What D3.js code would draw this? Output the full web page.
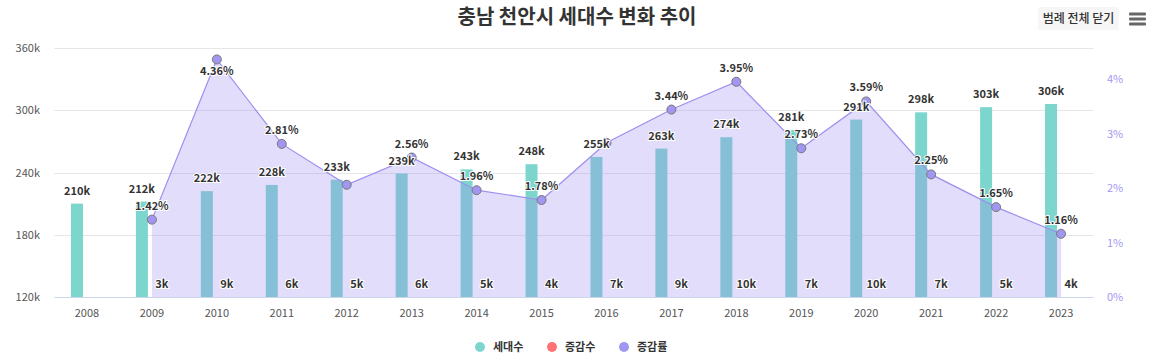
<!DOCTYPE html>
<html><head><meta charset="utf-8">
<script src="https://cdn.jsdelivr.net/npm/d3@7"></script>
<style>
html,body{margin:0;padding:0;background:#fff;}
svg{display:block;font-family:"Noto Sans CJK KR","Noto Sans",sans-serif;}
</style></head>
<body>
<svg id="chart" width="1152" height="360"></svg>
<script>
const years = ["2008","2009","2010","2011","2012","2013","2014","2015","2016","2017","2018","2019","2020","2021","2022","2023"];
const households = [210,212,222,228,233,239,243,248,255,263,274,281,291,298,303,306]; // thousands
const changes = [null,3,9,6,5,6,5,4,7,9,10,7,10,7,5,4]; // thousands
const rates = [null,1.42,4.36,2.81,2.06,2.56,1.96,1.78,2.83,3.44,3.95,2.73,3.59,2.25,1.65,1.16]; // percent
const hiddenRateLabels = ["2012","2016"];
const leftTicks = [120,180,240,300,360];
const rightTicks = [0,1,2,3,4];
const seriesNames = ["세대수","증감수","증감률"];
const seriesColors = ["#7dd6cd","#ff7272","#a197f2"];
const title = "충남 천안시 세대수 변화 추이";
const buttonText = "범례 전체 닫기";

const svg = d3.select("#chart");
const plot = {left:54.5, right:1093.5, top:48, bottom:297};

const x = d3.scaleBand().domain(years).range([plot.left, plot.right]);
const yL = d3.scaleLinear().domain([120,360]).range([plot.bottom, plot.top]);
const yR = d3.scaleLinear().domain([0,4.57]).range([plot.bottom, plot.top]);
const cx = d => x(d) + x.bandwidth()/2;

// title
svg.append("text").attr("x",577).attr("y",24).attr("text-anchor","middle")
  .attr("font-size",20).attr("font-weight",700).attr("fill","#333").text(title);

// button
svg.append("rect").attr("x",1038).attr("y",7).attr("width",81).attr("height",23).attr("rx",2).attr("fill","#f6f6f6");
svg.append("text").attr("x",1078.5).attr("y",23).attr("text-anchor","middle").attr("font-size",12).attr("font-weight",500).attr("fill","#333").text(buttonText);
[14,19,24].forEach(yy=>svg.append("rect").attr("x",1129).attr("y",yy-1.5).attr("width",17).attr("height",3).attr("rx",1).attr("fill","#666"));

// gridlines
svg.append("g").selectAll("line").data(leftTicks.slice(1)).join("line")
  .attr("x1",plot.left).attr("x2",plot.right).attr("y1",d=>Math.round(yL(d))+0.5).attr("y2",d=>Math.round(yL(d))+0.5)
  .attr("stroke","#e6e6e6");

// left axis labels
svg.append("g").selectAll("text").data(leftTicks).join("text")
  .attr("x",40).attr("y",d=>yL(d)+4).attr("text-anchor","end").attr("font-size",11).attr("fill","#555")
  .text(d=>d+"k");
// right axis labels
svg.append("g").selectAll("text").data(rightTicks).join("text")
  .attr("x",1107).attr("y",d=>yR(d)+4).attr("text-anchor","start").attr("font-size",11).attr("fill","#a598f2")
  .text(d=>d+"%");

// bars households
svg.append("g").selectAll("rect").data(years).join("rect")
  .attr("x",d=>cx(d)-16).attr("width",12)
  .attr("y",(d,i)=>yL(households[i])).attr("height",(d,i)=>plot.bottom-yL(households[i]))
  .attr("fill",seriesColors[0]);

// change bars (clipped at axis minimum)
svg.append("g").selectAll("rect").data(years.filter((d,i)=>changes[i]!=null)).join("rect")
  .attr("x",d=>cx(d)+4).attr("width",12)
  .attr("y",d=>yL(Math.max(120,changes[years.indexOf(d)])))
  .attr("height",d=>plot.bottom-yL(Math.max(120,changes[years.indexOf(d)])))
  .attr("fill",seriesColors[1]);

// area + line for rates
const rateData = years.map((d,i)=>({year:d,v:rates[i]})).filter(d=>d.v!=null);
const area = d3.area().x(d=>cx(d.year)).y0(plot.bottom).y1(d=>yR(d.v));
const line = d3.line().x(d=>cx(d.year)).y(d=>yR(d.v));
svg.append("path").datum(rateData).attr("d",area).attr("fill","rgba(157,143,239,0.3)");
svg.append("path").datum(rateData).attr("d",line).attr("fill","none").attr("stroke","#9d8fef").attr("stroke-width",1.2);

// axis baseline
svg.append("line").attr("x1",plot.left).attr("x2",plot.right).attr("y1",plot.bottom+0.5).attr("y2",plot.bottom+0.5).attr("stroke","#ccd6eb");

// x axis labels
svg.append("g").selectAll("text").data(years).join("text")
  .attr("x",d=>cx(d)).attr("y",317).attr("text-anchor","middle").attr("font-size",11).attr("fill","#555").text(d=>d);

// markers
svg.append("g").selectAll("circle").data(rateData).join("circle")
  .attr("cx",d=>cx(d.year)).attr("cy",d=>yR(d.v)).attr("r",4.5)
  .attr("fill","#a197f2").attr("stroke","#777").attr("stroke-width",1);

function label(g, xx, yy, txt){
  g.append("text").attr("x",xx).attr("y",yy+4).attr("text-anchor","middle").attr("font-size",11).attr("font-weight",600)
    .attr("fill","#333").attr("stroke","#fff").attr("stroke-width",2).attr("stroke-linejoin","round")
    .attr("paint-order","stroke").text(txt);
}
const lg = svg.append("g");
years.forEach((d,i)=>{
  label(lg, cx(d)-10, yL(households[i])-13, households[i]+"k");
});
years.forEach((d,i)=>{
  if(changes[i]!=null) label(lg, cx(d)+10, plot.bottom-13, changes[i]+"k");
});
rateData.forEach(d=>{
  if(hiddenRateLabels.includes(d.year)) return;
  let yy = yR(d.v)-14;
  if(yy < plot.top+8) yy = yR(d.v)+12;
  label(lg, cx(d.year), yy, d.v.toFixed(2)+"%");
});

// legend
const legendX = [480,552,624];
const leg = svg.append("g");
seriesNames.forEach((n,i)=>{
  leg.append("circle").attr("cx",legendX[i]).attr("cy",347).attr("r",5).attr("fill",seriesColors[i]);
  leg.append("text").attr("x",legendX[i]+13).attr("y",351).attr("font-size",11).attr("font-weight",700).attr("fill","#333").text(n);
});
</script>
</body></html>
